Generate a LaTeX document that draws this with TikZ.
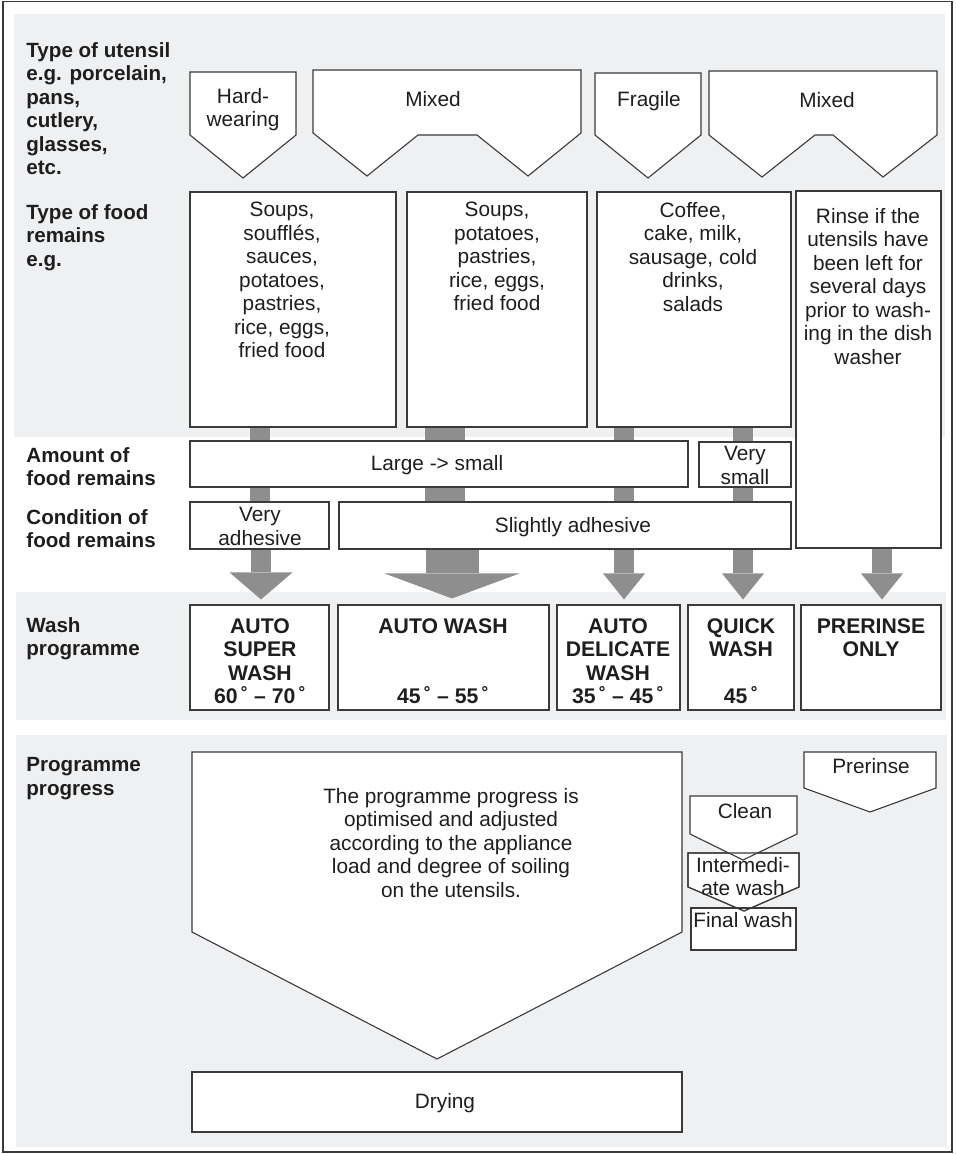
\documentclass[tikz,border=0pt]{standalone}
\usepackage{fontspec}
\setmainfont{Liberation Sans}
\usetikzlibrary{arrows.meta,fit}
\definecolor{panel}{HTML}{EFF0F2}
\definecolor{bargray}{HTML}{8E8E8E}
\definecolor{ink}{HTML}{1E1E1E}
\definecolor{edge}{HTML}{3A3A3A}
\begin{document}
\begin{tikzpicture}[x=0.5pt,y=-0.5pt,
  box/.style={draw=edge,fill=white,line width=0.55pt,inner sep=0pt},
  shp/.style={draw=edge,fill=white,line width=0.55pt,line join=miter},
  txt/.style={text=ink,font=\fontsize{10.4}{11.75}\selectfont,align=center,inner sep=0pt,anchor=north},
  btxt/.style={txt,font=\fontsize{10.6}{11.75}\selectfont\bfseries},
  lbl/.style={text=ink,font=\fontsize{10.3}{11.75}\selectfont\bfseries,align=left,anchor=north west,inner sep=0pt},
  bar/.style={draw=bargray,line width=10pt},
  wbar/.style={draw=bargray,line width=20pt},
  arr/.style={draw=bargray,line width=10pt,-{Triangle[width=21pt,length=13pt,line width=0pt]},shorten >=2.5pt},
  arrw/.style={draw=bargray,line width=10pt,-{Triangle[width=31.5pt,length=13.5pt,line width=0pt]},shorten >=2.5pt},
  arrb/.style={draw=bargray,line width=26.5pt,-{Triangle[width=67.5pt,length=12.5pt,line width=0pt]},shorten >=3pt}
]
\useasboundingbox (0,0) rectangle (955,1154);
% panels and frame
\fill[panel] (14,14) rectangle (945,437);
\fill[panel] (16,592) rectangle (946,720);
\fill[panel] (16,735) rectangle (947,1147);
\draw[edge,line width=0.6pt] (3,1.5) rectangle (952,1152);

% row labels
\node[lbl] (lab1) at (26,42) {Type of utensil\\e.g. porcelain,\\pans,\\cutlery,\\glasses,\\etc.};
\node[lbl] (lab2) at (26,204) {Type of food\\remains\\e.g.};
\node[lbl] (lab3) at (26,447) {Amount of\\food remains};
\node[lbl] (lab4) at (26,509) {Condition of\\food remains};
\node[lbl] (lab5) at (26,617) {Wash\\programme};
\node[lbl] (lab6) at (26,757) {Programme\\progress};

% utensil type shapes
\draw[shp] (190,72) -- (296,72) -- (296,135) -- (243,178) -- (190,135) -- cycle;
\draw[shp] (313,70) -- (581,70) -- (581,133) -- (528,176) -- (477,135) -- (418,135) -- (367,176) -- (313,133) -- cycle;
\draw[shp] (595,73) -- (701,73) -- (701,135) -- (648,178) -- (595,135) -- cycle;
\draw[shp] (709,71) -- (937,71) -- (937,135) -- (883,177) -- (833,135) -- (815,135) -- (762,177) -- (709,135) -- cycle;
\node[txt] (hw) at (243,88) {Hard-\\wearing};
\node[txt] (mx1) at (433,91) {Mixed};
\node[txt] (fr) at (649,91) {Fragile};
\node[txt] (mx2) at (827,92) {Mixed};

% food remains boxes
\node[box,fit={(190,192) (396,427)}] (f1) {};
\node[box,fit={(407,192) (587,427)}] (f2) {};
\node[box,fit={(597,192) (791,427)}] (f3) {};
\node[box,fit={(796,191) (941,548)}] (f4) {};
\node[txt] (t1) at (282,202) {Soups,\\soufflés,\\sauces,\\potatoes,\\pastries,\\rice, eggs,\\fried food};
\node[txt] (t2) at (497,202) {Soups,\\potatoes,\\pastries,\\rice, eggs,\\fried food};
\node[txt] (t3) at (693,202) {Coffee,\\cake, milk,\\sausage, cold\\drinks,\\salads};
\node[txt] (t4) at (868,208) {Rinse if the\\utensils have\\been left for\\several days\\prior to wash-\\ing in the dish\\washer};

% amount / condition
\node[box,fit={(190,441) (688,487)}] (amt) {};
\node[box,fit={(699,442) (791,487)}] (vsm) {};
\node[box,fit={(190,502) (329,549)}] (vad) {};
\node[box,fit={(339,502) (791,549)}] (sad) {};
\node[txt] (tamt) at (437,455) {Large -> small};
\node[txt] (tvsm) at (745,446) {Very\\small};
\node[txt] (tvad) at (260,507) {Very\\adhesive};
\node[txt] (tsad) at (573,517) {Slightly adhesive};

% wash programme boxes
\node[box,fit={(190,605) (329,710)}] (w1) {};
\node[box,fit={(338,605) (549,710)}] (w2) {};
\node[box,fit={(557,605) (680,710)}] (w3) {};
\node[box,fit={(688,605) (794,710)}] (w4) {};
\node[box,fit={(801,605) (941,710)}] (w5) {};
\node[btxt] (tw1) at (260,618) {AUTO\\SUPER\\WASH\\60\,˚ – 70\,˚};
\node[btxt] (tw2) at (443,618) {AUTO WASH\\[23.5pt]45\,˚ – 55\,˚};
\node[btxt] (tw3) at (618,618) {AUTO\\DELICATE\\WASH\\35\,˚ – 45\,˚};
\node[btxt] (tw4) at (741,618) {QUICK\\WASH\\[11.75pt]45\,˚};
\node[btxt] (tw5) at (871,618) {PRERINSE\\ONLY};

% connectors
\draw[bar] (260,0 |- f1.south) -- (260,0 |- amt.north);
\draw[bar] (260,0 |- amt.south) -- (260,0 |- vad.north);
\draw[wbar] (445,0 |- f2.south) -- (445,0 |- amt.north);
\draw[wbar] (445,0 |- amt.south) -- (445,0 |- sad.north);
\draw[bar] (624,0 |- f3.south) -- (624,0 |- amt.north);
\draw[bar] (624,0 |- amt.south) -- (624,0 |- sad.north);
\draw[bar] (743,0 |- f3.south) -- (743,0 |- vsm.north);
\draw[bar] (743,0 |- vsm.south) -- (743,0 |- sad.north);
\draw[arrw] (261,0 |- vad.south) -- (261,0 |- w1.north);
\draw[arrb] (452,0 |- sad.south) -- (452,0 |- w2.north);
\draw[arr] (624,0 |- sad.south) -- (624,0 |- w3.north);
\draw[arr] (743,0 |- sad.south) -- (743,0 |- w4.north);
\draw[arr] (882,0 |- f4.south) -- (882,0 |- w5.north);

% programme progress
\draw[shp] (192,752) -- (682,752) -- (682,932) -- (437,1059) -- (192,932) -- cycle;
\node[txt] (prog) at (451,788) {The programme progress is\\optimised and adjusted\\according to the appliance\\load and degree of soiling\\on the utensils.};
\node[box,fit={(192,1072) (682,1132)}] (dry) {};
\node[txt,anchor=center] (tdry) at (445,1103) {Drying};

\draw[shp] (691,908) rectangle (796,950);
\draw[shp] (688,853) -- (799,853) -- (799,887) -- (744,911) -- (688,887) -- cycle;
\draw[shp] (690,796) -- (797,796) -- (797,834) -- (743,860) -- (690,834) -- cycle;
\draw[draw=edge,line width=0.55pt] (691,908) rectangle (796,950);
\draw[draw=edge,line width=0.55pt] (688,853) -- (799,853) -- (799,887) -- (744,911) -- (688,887) -- cycle;
\node[txt] (tclean) at (745,803) {Clean};
\node[txt] (tinter) at (743,857) {Intermedi-\\ate wash};
\node[txt] (tfinal) at (743,912) {Final wash};

\draw[shp] (804,752) -- (936,752) -- (936,788) -- (870,812) -- (804,788) -- cycle;
\node[txt] (tprer) at (871,758) {Prerinse};
\end{tikzpicture}
\end{document}
